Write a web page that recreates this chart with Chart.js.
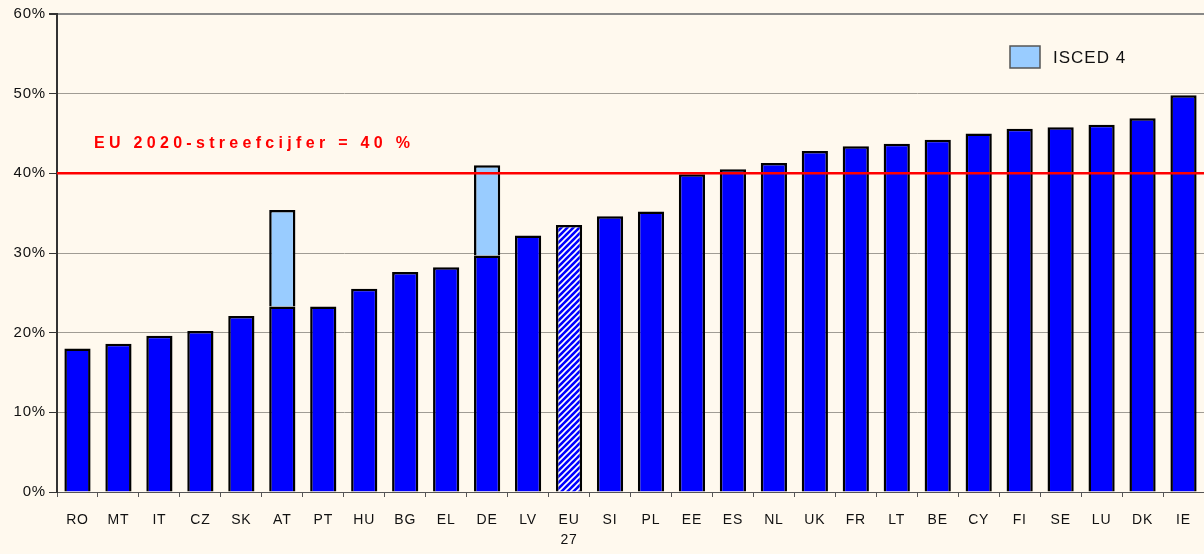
<!DOCTYPE html>
<html lang="nl">
<head>
<meta charset="UTF-8">
<title>Tertiair onderwijs</title>
<script src="https://cdn.jsdelivr.net/npm/chart.js"></script>
<style>
  html, body { margin: 0; padding: 0; background: #FFF9EE; }
  #wrap { width: 1204px; height: 554px; position: relative; }
</style>
</head>
<body>
<div id="wrap"><canvas id="myChart" width="1204" height="554"></canvas></div>
<script>

// data
const countries = ['RO','MT','IT','CZ','SK','AT','PT','HU','BG','EL','DE','LV',['EU','27'],'SI','PL','EE','ES','NL','UK','FR','LT','BE','CY','FI','SE','LU','DK','IE'];
const mainValues = [18.0,18.6,19.6,20.2,22.1,23.3,23.3,25.5,27.6,28.2,29.7,32.2,33.5,34.6,35.2,39.9,40.5,41.3,42.8,43.4,43.7,44.2,45.0,45.6,45.8,46.1,46.9,49.8];
const isced4Values = [null,null,null,null,null,12.1,null,null,null,null,11.3,null,null,null,null,null,null,null,null,null,null,null,null,null,null,null,null,null];
const yTicks = [0,10,20,30,40,50,60];
const target = 40;
const targetLabel = 'EU 2020-streefcijfer = 40 %';
const legendLabel = 'ISCED 4';

// hatch for EU27
function makeHatch() {
  const c = document.createElement('canvas');
  c.width = 6; c.height = 6;
  const g = c.getContext('2d');
  g.fillStyle = '#0000FF';
  g.fillRect(0, 0, 6, 6);
  g.strokeStyle = '#FFFFFF';
  g.lineWidth = 1.6;
  g.beginPath();
  g.moveTo(-1, 7); g.lineTo(7, -1);
  g.moveTo(-4, 4); g.lineTo(4, -4);
  g.moveTo(2, 10); g.lineTo(10, 2);
  g.stroke();
  return g.createPattern(c, 'repeat');
}
const hatch = makeHatch();
const mainColors = countries.map(c => Array.isArray(c) ? hatch : '#0000FF');

// a bit of letter spacing like the original
const spacing = {
  id: 'spacing',
  beforeDraw(chart) { chart.ctx.letterSpacing = '0.8px'; }
};

// target line + label + legend
const extras = {
  id: 'extras',
  afterDatasetsDraw(chart) {
    const ctx = chart.ctx;
    const area = chart.chartArea;
    const y = chart.scales.y.getPixelForValue(target);
    ctx.save();
    ctx.strokeStyle = '#FF0000';
    ctx.lineWidth = 2.5;
    ctx.beginPath();
    ctx.moveTo(area.left, y);
    ctx.lineTo(area.right, y);
    ctx.stroke();

    ctx.fillStyle = '#FF0000';
    ctx.font = 'bold 16px "Liberation Sans", Arial, sans-serif';
    ctx.letterSpacing = '4.3px';
    ctx.textBaseline = 'middle';
    ctx.fillText(targetLabel, 94, y - 30);

    // legend
    ctx.letterSpacing = '1px';
    ctx.fillStyle = '#99CCFF';
    ctx.fillRect(1010, 46, 30, 22);
    ctx.strokeStyle = '#555555';
    ctx.lineWidth = 1.5;
    ctx.strokeRect(1010, 46, 30, 22);
    ctx.fillStyle = '#111111';
    ctx.font = '17px "Liberation Sans", Arial, sans-serif';
    ctx.fillText(legendLabel, 1053, 58);
    ctx.restore();
  }
};

const ctx = document.getElementById('myChart').getContext('2d');
const myChart = new Chart(ctx, {
  type: 'bar',
  data: {
    labels: countries,
    datasets: [{
      label: 'Totaal',
      data: mainValues,
      backgroundColor: mainColors,
      borderColor: '#000000',
      borderWidth: 2.5,
      barPercentage: 0.64,
      categoryPercentage: 1
    }, {
      label: legendLabel,
      data: isced4Values,
      backgroundColor: '#99CCFF',
      borderColor: '#000000',
      borderWidth: 2.5,
      barPercentage: 0.64,
      categoryPercentage: 1
    }]
  },
  options: {
    responsive: false,
    animation: false,
    layout: { padding: { top: 14, right: 0, left: 0, bottom: 0 } },
    plugins: {
      legend: { display: false },
      tooltip: { enabled: false }
    },
    scales: {
      x: {
        stacked: true,
        grid: {
          drawOnChartArea: false,
          drawTicks: true,
          tickLength: 5,
          color: '#555555',
          offset: true
        },
        border: { display: true, color: '#555555', width: 1 },
        ticks: {
          color: '#111111',
          font: { family: '"Liberation Sans", Arial, sans-serif', size: 14, lineHeight: 1.45 },
          padding: 13,
          maxRotation: 0,
          autoSkip: false
        },
        afterFit(scale) { scale.height = 62; }
      },
      y: {
        stacked: true,
        min: 0,
        max: 60,
        afterBuildTicks(scale) { scale.ticks = yTicks.map(v => ({ value: v })); },
        grid: {
          color: ctx2 => ctx2.tick && ctx2.tick.value === 60 ? '#888888' : '#A09C94',
          lineWidth: ctx2 => ctx2.tick && ctx2.tick.value === 60 ? 2 : 1,
          tickLength: 8,
          tickColor: '#333333'
        },
        border: { display: true, color: '#333333', width: 2 },
        ticks: {
          color: '#111111',
          font: { family: '"Liberation Sans", Arial, sans-serif', size: 15 },
          padding: 3,
          callback: v => v + '%'
        },
        afterFit(scale) { scale.width = 57; }
      }
    }
  },
  plugins: [spacing, extras]
});

</script>
</body>
</html>
